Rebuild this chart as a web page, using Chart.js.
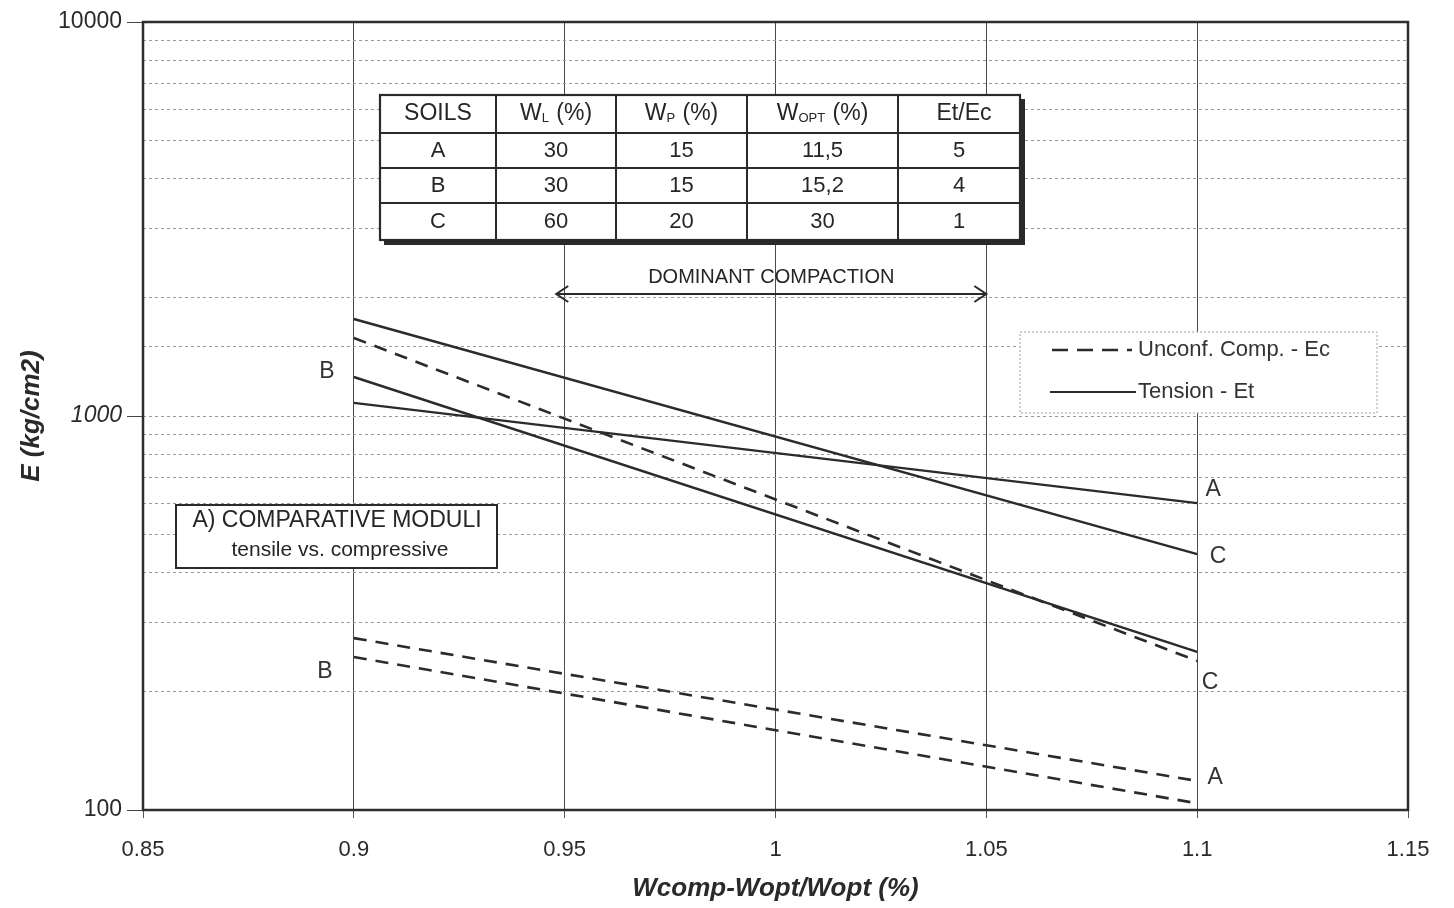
<!DOCTYPE html>
<html>
<head>
<meta charset="utf-8">
<title>Comparative moduli</title>
<script src="https://cdn.jsdelivr.net/npm/chart.js@4.4.1/dist/chart.umd.min.js"></script>
<style>
	html, body { margin: 0; padding: 0; background: #fff; }
	#wrap { width: 1454px; height: 908px; }
</style>
</head>
<body>
<div id="wrap"><canvas id="chart" width="1454" height="908"></canvas></div>
<script>
// ---- data ----
const xValues = [0.9, 1.1]
const tensionA = [1080, 601]
const tensionB = [1256, 252]
const tensionC = [1763, 446]
const compressionC = [1578, 239]
const compressionA = [273, 118.5]
const compressionB = [244.5, 104]

const tableHeader = ['SOILS', ['W', 'L', ' (%)'], ['W', 'P', ' (%)'], ['W', 'OPT', ' (%)'], 'Et/Ec']
const tableRows = [
	['A', '30', '15', '11,5', '5'],
	['B', '30', '15', '15,2', '4'],
	['C', '60', '20', '30', '1'],
]

const curveLabels = ['A', 'C', 'C', 'A', 'B', 'B']
const curveLabelX = [1.1, 1.1, 1.1, 1.1, 0.9, 0.9]
const curveLabelY = [649, 439, 211, 120.5, 1294, 224]

const compactionRange = [0.948, 1.05]
const legendItems = ['Unconf. Comp. - Ec', 'Tension - Et']
const noteLines = ['A) COMPARATIVE MODULI', 'tensile vs. compressive']

const FONT = '"Liberation Sans", Arial, sans-serif'
const INK = '#262626'

function isDecade(v) {
	const l = Math.log10(v)
	return Math.abs(l - Math.round(l)) < 1e-9
}

function points(arr) {
	return xValues.map((x, i) => ({ x, y: arr[i] }))
}

function text(ctx, s, x, y, size, opts = {}) {
	ctx.font = `${opts.style || ''} ${opts.weight || ''} ${size}px ${FONT}`
	ctx.fillStyle = opts.color || INK
	ctx.textAlign = opts.align || 'center'
	ctx.textBaseline = 'middle'
	ctx.fillText(s, x, y)
}

function line(ctx, x1, y1, x2, y2) {
	ctx.beginPath()
	ctx.moveTo(x1, y1)
	ctx.lineTo(x2, y2)
	ctx.stroke()
}

function subLabel(ctx, parts, cx, cy, size) {
	const [main, sub, rest] = parts
	const subSize = Math.round(size * 0.55)
	ctx.font = `${size}px ${FONT}`
	const w1 = ctx.measureText(main).width
	const w3 = ctx.measureText(rest).width
	ctx.font = `${subSize}px ${FONT}`
	const w2 = ctx.measureText(sub).width + 1
	const x0 = cx - (w1 + w2 + w3) / 2
	text(ctx, main, x0, cy, size, { align: 'left' })
	text(ctx, sub, x0 + w1, cy + size * 0.2, subSize, { align: 'left' })
	text(ctx, rest, x0 + w1 + w2, cy, size, { align: 'left' })
}

function drawTable(ctx) {
	const cols = [380, 496, 616, 747, 898, 1020]
	const rows = [95, 133, 168, 203, 240]
	const L = cols[0], R = cols[5], T = rows[0], B = rows[4]

	ctx.fillStyle = '#fff'
	ctx.fillRect(L, T, R - L, B - T)
	// drop shadow on right and bottom
	ctx.fillStyle = '#2a2a2a'
	ctx.fillRect(L + 4, B, R - L, 5)
	ctx.fillRect(R, T + 4, 5, B - T + 1)

	ctx.strokeStyle = '#2a2a2a'
	ctx.lineWidth = 2.2
	ctx.setLineDash([])
	ctx.strokeRect(L, T, R - L, B - T)
	ctx.lineWidth = 2
	cols.slice(1, -1).forEach(c => line(ctx, c, T, c, B))
	rows.slice(1, -1).forEach(r => line(ctx, L, r, R, r))

	tableHeader.forEach((h, i) => {
		const cx = (cols[i] + cols[i + 1]) / 2
		const cy = (rows[0] + rows[1]) / 2
		if (Array.isArray(h)) subLabel(ctx, h, cx, cy, 23)
		else text(ctx, h, i === 4 ? cx + 5 : cx, cy, 23)
	})
	tableRows.forEach((r, j) => {
		const cy = (rows[j + 1] + rows[j + 2]) / 2
		r.forEach((c, i) => {
			const cx = (cols[i] + cols[i + 1]) / 2
			text(ctx, c, cx, cy, 22)
		})
	})
}

function drawCompaction(ctx, x) {
	const x1 = x.getPixelForValue(compactionRange[0])
	const x2 = x.getPixelForValue(compactionRange[1])
	const yy = 294
	ctx.strokeStyle = '#2a2a2a'
	ctx.lineWidth = 2
	ctx.setLineDash([])
	line(ctx, x1, yy, x2, yy)
	ctx.beginPath()
	ctx.moveTo(x1 + 12, yy - 8)
	ctx.lineTo(x1, yy)
	ctx.lineTo(x1 + 12, yy + 8)
	ctx.moveTo(x2 - 12, yy - 8)
	ctx.lineTo(x2, yy)
	ctx.lineTo(x2 - 12, yy + 8)
	ctx.stroke()
	text(ctx, 'DOMINANT COMPACTION', (x1 + x2) / 2, 277, 20)
}

function drawLegendBox(ctx) {
	const L = 1020, T = 332, R = 1377, B = 413
	ctx.fillStyle = '#fff'
	ctx.fillRect(L, T, R - L, B - T)
	ctx.strokeStyle = '#a0a0a0'
	ctx.lineWidth = 1
	ctx.setLineDash([2, 2])
	ctx.strokeRect(L, T, R - L, B - T)

	ctx.strokeStyle = '#2a2a2a'
	ctx.lineWidth = 2.5
	ctx.setLineDash([16, 9])
	line(ctx, 1052, 350, 1132, 350)
	ctx.setLineDash([])
	ctx.lineWidth = 2
	line(ctx, 1050, 392, 1136, 392)
	text(ctx, legendItems[0], 1138, 350, 22, { align: 'left', color: '#333' })
	text(ctx, legendItems[1], 1138, 392, 22, { align: 'left', color: '#333' })
}

function drawNote(ctx) {
	const L = 176, T = 505, R = 497, B = 568
	ctx.fillStyle = '#fff'
	ctx.fillRect(L, T, R - L, B - T)
	ctx.strokeStyle = '#2a2a2a'
	ctx.lineWidth = 2
	ctx.setLineDash([])
	ctx.strokeRect(L, T, R - L, B - T)
	text(ctx, noteLines[0], 337, 521, 23)
	text(ctx, noteLines[1], 340, 550, 21)
}

const overlayPlugin = {
	id: 'overlay',
	afterDatasetsDraw(chart) {
		const { ctx, chartArea: a, scales: { x, y } } = chart
		ctx.save()

		// frame round the plot
		ctx.strokeStyle = '#2e2e2e'
		ctx.lineWidth = 2.5
		ctx.setLineDash([])
		ctx.strokeRect(a.left, a.top, a.right - a.left, a.bottom - a.top)

		drawTable(ctx)
		drawCompaction(ctx, x)
		drawLegendBox(ctx)
		drawNote(ctx)

		// letters at the ends of the curves
		const dx = [16, 21, 13, 18, -27, -29]
		curveLabels.forEach((s, i) => {
			text(ctx, s, x.getPixelForValue(curveLabelX[i]) + dx[i], y.getPixelForValue(curveLabelY[i]), 23, { color: '#333' })
		})
		ctx.restore()
	},
}

function lineSet(label, arr, dashed) {
	return {
		label,
		data: points(arr),
		borderColor: '#2b2b2b',
		borderWidth: dashed ? 2.6 : 2.4,
		borderDash: dashed ? [13, 9] : [],
		pointRadius: 0,
		fill: false,
		tension: 0,
	}
}

new Chart(document.getElementById('chart'), {
	type: 'line',
	data: {
		datasets: [
			lineSet('Tension A', tensionA, false),
			lineSet('Tension B', tensionB, false),
			lineSet('Tension C', tensionC, false),
			lineSet('Unconf. Comp. C', compressionC, true),
			lineSet('Unconf. Comp. A', compressionA, true),
			lineSet('Unconf. Comp. B', compressionB, true),
		],
	},
	options: {
		responsive: false,
		animation: false,
		layout: { padding: { top: 22, right: 46, left: 0, bottom: 0 } },
		plugins: {
			legend: { display: false },
			tooltip: { enabled: false },
		},
		scales: {
			x: {
				type: 'linear',
				min: 0.85,
				max: 1.15,
				ticks: {
					stepSize: 0.05,
					color: '#2a2a2a',
					padding: 19,
					font: { family: FONT, size: 22 },
					callback: v => String(+Number(v).toFixed(2)),
				},
				grid: { color: '#4a4a4a', lineWidth: 1, tickLength: 8, tickColor: '#555' },
				border: { display: false },
				title: {
					display: true,
					text: 'Wcomp-Wopt/Wopt (%)',
					color: '#2a2a2a',
					font: { family: FONT, size: 26, weight: 'bold', style: 'italic' },
					padding: { top: 2, bottom: 4 },
				},
				afterFit: s => { s.height = 98 },
			},
			y: {
				type: 'logarithmic',
				min: 100,
				max: 10000,
				ticks: {
					autoSkip: false,
					color: '#2a2a2a',
					padding: 5,
					font: ctx => ({
						family: FONT,
						size: 23,
						style: ctx.tick && ctx.tick.value === 1000 ? 'italic' : 'normal',
					}),
					callback: v => isDecade(v) ? String(v) : '',
				},
				grid: {
					color: ctx => (ctx.tick && (ctx.tick.value === 100 || ctx.tick.value === 10000)) ? 'rgba(0,0,0,0)' : '#9a9a9a',
					lineWidth: 1,
					tickLength: 16,
					tickColor: ctx => ctx.tick && isDecade(ctx.tick.value) ? '#444' : 'rgba(0,0,0,0)',
				},
				border: { display: false, dash: [3, 3] },
				title: {
					display: true,
					text: 'E (kg/cm2)',
					color: '#2a2a2a',
					font: { family: FONT, size: 26, weight: 'bold', style: 'italic' },
					padding: { top: 16, bottom: 0 },
				},
				afterFit: s => { s.width = 143 },
			},
		},
	},
	plugins: [overlayPlugin],
})
</script>
</body>
</html>
